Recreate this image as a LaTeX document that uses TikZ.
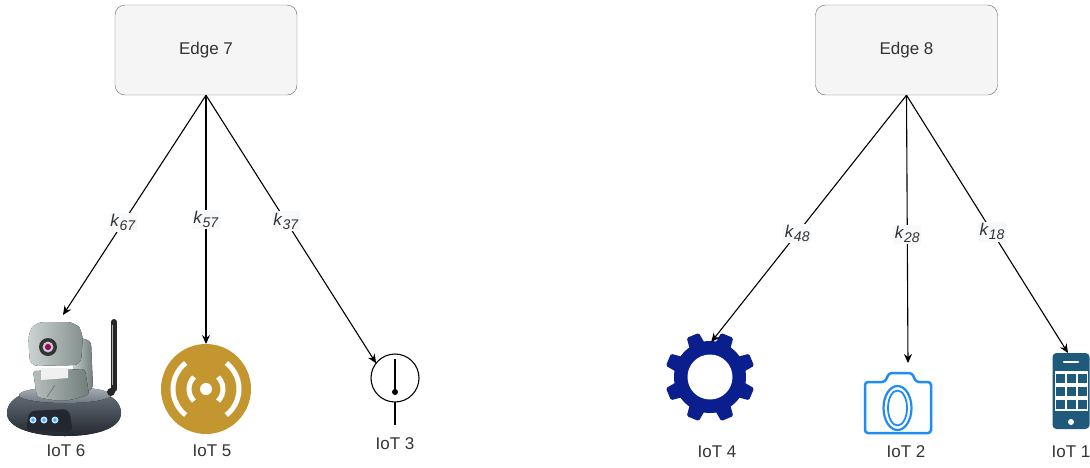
\documentclass[tikz,border=0pt]{standalone}
\usepackage{fontspec}
\setmainfont{Liberation Sans}
\usepackage{xcolor}
\usepackage{tikz}
\usetikzlibrary{positioning,arrows.meta,calc}
\definecolor{boxfill}{HTML}{F5F5F5}
\definecolor{boxline}{HTML}{666666}
\definecolor{txtgray}{HTML}{333333}
\definecolor{klbg}{HTML}{F8F9FA}
\definecolor{gold}{HTML}{C4962F}
\definecolor{gearblue}{HTML}{0A1E8E}
\definecolor{camblue}{HTML}{1E8CF0}
\definecolor{phoneblue}{HTML}{1F5A7C}
\definecolor{ledblue}{HTML}{3FA9FF}
\definecolor{basetop}{HTML}{6E7882}
\definecolor{basebot}{HTML}{232830}
\definecolor{rimgray}{HTML}{A9B1B6}
\definecolor{metal}{HTML}{CBD4D2}
\definecolor{metaldark}{HTML}{6F7D7A}
\newcommand{\kval}[1]{\textit{k}\raisebox{-4pt}{\fontsize{14}{14}\selectfont\textit{#1}}}

\begin{document}
\begin{tikzpicture}[
  x=1pt, y=-1pt,
  font=\fontsize{17}{20}\selectfont,
  edgebox/.style={draw=boxline, fill=boxfill, rounded corners=10pt, minimum width=182pt, minimum height=90pt, text=txtgray},
  icon/.style={inner sep=0pt, outer sep=0pt},
  lbl/.style={text=txtgray, inner sep=0pt},
  arr/.style={-{Stealth[length=9pt,width=8pt]}, line width=1.1pt},
  klbl/.style={fill=klbg, inner sep=1.5pt, text=txtgray}
]
\useasboundingbox (0,0) rectangle (1090,467);
% Edge nodes
\node[edgebox] (edge7) at (206,50) {Edge 7};
\node[edgebox] (edge8) at (906.5,50) {Edge 8};
% IoT devices
\node[icon, minimum width=112pt, minimum height=120pt] (iot6) at (63,375) {};
\node[icon, circle, fill=gold, minimum size=90pt] (iot5) at (206,389) {};
\node[icon, circle, draw, line width=1.1pt, minimum size=48pt] (iot3) at (395,378) {};
\node[icon, circle, minimum size=70pt] (iot4) at (710,377) {};
\node[icon, minimum width=84pt, minimum height=70pt] (iot2) at (906,398) {};
\node[icon, minimum width=37pt, minimum height=76pt] (iot1) at (1071,391) {};
\node[lbl] (lbl6) at (66,451) {IoT 6};
\node[lbl] (lbl5) at (212,451) {IoT 5};
\node[lbl] (lbl3) at (395,444) {IoT 3};
\node[lbl] (lbl4) at (717,452) {IoT 4};
\node[lbl] (lbl2) at (906,452) {IoT 2};
\node[lbl] (lbl1) at (1071,452) {IoT 1};
% webcam
\begin{scope}[shift={(iot6.center)}]
  \fill[top color=basetop, bottom color=basebot] (-56,38) .. controls (-56,20) and (-28,12) .. (2,12) .. controls (32,12) and (58,20) .. (58,38) .. controls (58,53) and (34,61) .. (2,61) .. controls (-30,61) and (-56,53) .. (-56,38) -- cycle;
  \fill[top color=rimgray, bottom color=basetop] (2,20) ellipse (46pt and 8pt);
  \fill[basebot, rounded corners=6pt] (-34,36) -- (6,34) -- (10,57) -- (-37,56) -- cycle;
  \foreach \lx in {-30,-19,-8} {
    \fill[ledblue!35] (\lx,45) circle (3.5pt);
    \fill[ledblue] (\lx,45) circle (1.8pt);
  }
  \draw[black!85, line width=6pt, line cap=round] (51,-53) -- (51,14);
  \draw[gray!60, line width=1.2pt] (49.5,-50) -- (49.5,10);
  \fill[black!85] (48,17) circle (4pt);
  % yoke and neck
  \fill[left color=metal, right color=metaldark, rounded corners=4pt] (8,-40) -- (28,-34) -- (30,14) -- (12,20) -- cycle;
  \fill[left color=metal!90!black, right color=metaldark, rounded corners=3pt] (-30,-4) -- (22,-6) -- (26,20) .. controls (0,27) .. (-26,22) -- cycle;
  \fill[white!88!gray] (-22,-7) -- (5,-7) -- (5,3) -- (-22,5) -- cycle;
  \draw[metaldark, line width=0.8pt] (-8,10) -- (-16,22);
  % head
  \fill[left color=metal, right color=metaldark!85, rounded corners=8pt] (-35,-42) -- (-27,-53) -- (12,-53) -- (20,-43) -- (18,-10) -- (-33,-9) -- cycle;
  \fill[black!80] (-15,-28) circle (9pt);
  \fill[gray!45] (-15,-28) circle (5.5pt);
  \fill[violet!80!red] (-15,-28) circle (3pt);
\end{scope}
% wireless sensor
\begin{scope}[shift={(iot5.center)}, white, line width=5pt]
  \fill (0,0) circle (6pt);
  \draw (-45:17pt) arc[start angle=-45, end angle=45, radius=17pt];
  \draw (135:17pt) arc[start angle=135, end angle=225, radius=17pt];
  \draw (-52:33pt) arc[start angle=-52, end angle=52, radius=33pt];
  \draw (128:33pt) arc[start angle=128, end angle=232, radius=33pt];
\end{scope}
% probe
\draw[line width=1.1pt] (iot3.center) ++(0,-19) -- ++(0,33);
\fill (iot3.center) ++(0,14) circle (3pt);
\draw[line width=1.1pt] (iot3.south) -- ++(0,23);
% gear
\begin{scope}[shift={(iot4.center)}]
  \fill[gearblue] (0,0) circle (36pt);
  \foreach \a in {22.5,67.5,...,337.5}
    \fill[gearblue, rotate=\a, rounded corners=1.5pt] (30pt,-8.5pt) -- (45pt,-6.5pt) -- (45pt,6.5pt) -- (30pt,8.5pt) -- cycle;
  \fill[white] (0,0) circle (22.5pt);
\end{scope}
% camera
\begin{scope}[shift={(iot2.center)}, camblue]
  \draw[line width=2.5pt, rounded corners=3pt] (-41,-16) -- (-21,-16) -- (-17,-25) -- (6,-25) -- (10,-16) -- (25,-16) -- (25,35) -- (-41,35) -- cycle;
  \draw[line width=2.2pt] (-8.5,10) ellipse (14pt and 22pt);
  \draw[line width=1.8pt] (-8.5,10) ellipse (9.5pt and 17.5pt);
\end{scope}
% phone
\begin{scope}[shift={(iot1.center)}]
  \fill[phoneblue, rounded corners=4pt] (-18.5,-38) rectangle (18.5,38);
  \fill[white] (-16.5,-20) rectangle (16.5,20);
  \draw[white, line width=2.5pt, line cap=round] (-7,-29) -- (7,-29);
  \fill[white] (0,31) circle (3pt);
  \foreach \cx in {-15.5,-4.5,6.5}
    \foreach \cy in {-17.5,-4.5,8.5}
      \fill[phoneblue] (\cx,\cy) rectangle ++(9.5,9.5);
\end{scope}
% links
\draw[arr] (edge7.south) -- node[klbl, pos=0.58]{\kval{67}} (iot6.north);
\draw[arr] (edge7.south) -- node[klbl, pos=0.5]{\kval{57}} (iot5.north);
\draw[arr] (edge7.south) -- node[klbl, pos=0.47]{\kval{37}} (iot3.142);
\draw[arr] (edge8.south) -- node[klbl, pos=0.56]{\kval{48}} (iot4.88);
\draw[arr] (edge8.south) -- node[klbl, pos=0.52]{\kval{28}} ([xshift=2pt]iot2.north);
\draw[arr] (edge8.south) -- node[klbl, pos=0.53]{\kval{18}} ([xshift=-3pt]iot1.north);
\end{tikzpicture}
\end{document}
